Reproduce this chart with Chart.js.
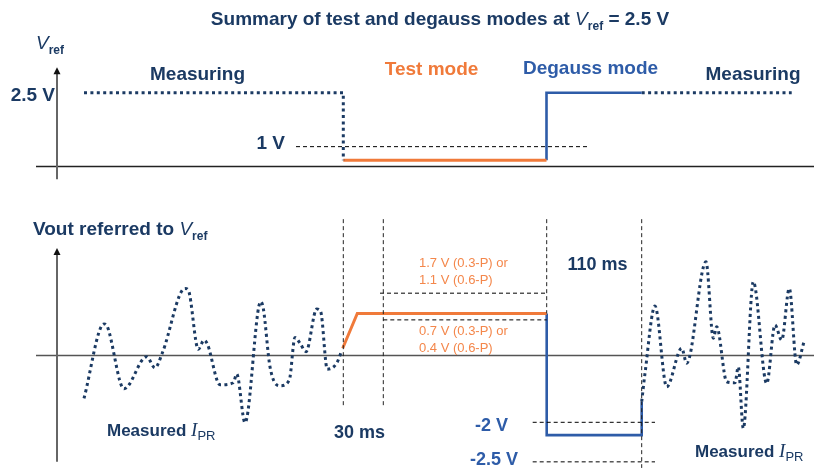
<!DOCTYPE html>
<html>
<head>
<meta charset="utf-8">
<script src="https://cdn.jsdelivr.net/npm/chart.js@4"></script>
<style>
html,body{margin:0;padding:0;background:#fff;}
#wrap{position:relative;width:814px;height:468px;}
canvas{display:block;}
</style>
</head>
<body>
<div id="wrap"><canvas id="c" width="814" height="468"></canvas></div>
<script>
// ---------- DATA (schematic time units, volts as drawn) ----------
// Top panel: V_ref versus time
const vrefMeasLeft   = [[27, 2.5], [286.3, 2.5], [286.3, 0.2]];
const vrefTest       = [[286.3, 0.2], [489.5, 0.2]];
const vrefDegauss    = [[489.5, 0.2], [489.5, 2.5], [584.7, 2.5]];
const vrefMeasRight  = [[584.7, 2.5], [734.7, 2.5]];
const vref1VMarker   = [[239, 0.66], [533, 0.66]];

// Bottom panel: Vout referred to V_ref
const noiseLeftT  = [27, 47, 50, 67, 89.7, 98, 105.3, 128, 131.3, 141.3, 147, 150.3, 163, 176.3, 179.7, 188, 203.7, 206.3, 213, 223, 232.3, 238, 243, 249, 259.7, 263.7, 270.3, 279.7, 284.7];
const noiseLeftV  = [-1.29, 0.91, 0.85, -1.01, -0.06, -0.39, 0.05, 1.96, 1.91, 0.16, 0.43, 0.32, -0.89, -0.83, -0.57, -2.01, 1.57, 1.37, -0.36, -0.92, -0.75, 0.51, 0.34, 0.09, 1.35, 1.27, -0.43, -0.25, 0.12];
const noiseRightT = [584.7, 588, 598, 609.7, 624.7, 629.7, 649, 656.3, 659.7, 669.7, 678, 681.3, 686.3, 696.3, 709.7, 718, 724.7, 732.3, 739.7, 747];
const noiseRightV = [-1.39, -0.55, 1.44, -0.95, 0.19, -0.25, 2.75, 0.49, 0.83, -0.80, -0.83, -0.36, -2.18, 2.16, -0.85, 0.88, 0.43, 1.96, -0.30, 0.38];
const voutTest    = [[285.7, 0.19], [300.3, 1.22], [489.7, 1.22]];
const voutDegauss = [[489.7, 1.22], [489.7, -2.38], [584.7, -2.38], [584.7, -1.39]];
const markUpper   = [[323, 1.82], [489.7, 1.82]];
const markLower   = [[326.3, 1.03], [489.7, 1.03]];
const markNeg2    = [[475.7, -2.0], [598, -2.0]];
const markNeg25   = [[475.7, -3.17], [598, -3.17]];
const vMarkT      = [286.3, 326.3, 489.7, 584.7];
const vMarkTop    = [4.01, 4.01, 4.01, 4.01];
const vMarkBottom = [-1.58, -1.58, 1.22, -3.35];

// ---------- STYLE ----------
const NAVY = '#1b3a63', ORANGE = '#f07a3a', ORANGE_T = '#f4874b', BLUE = '#2e5ca8';
const SANS = '"Liberation Sans", Arial, sans-serif';
const SERIF = '"Liberation Serif", "Times New Roman", serif';

const pts = a => a.map(p => ({x: p[0], y: p[1]}));
const zip = (t, v) => t.map((x, i) => ({x, y: v[i]}));

function ds(data, axis, color, opts) {
  return Object.assign({data: data, yAxisID: axis, borderColor: color, borderWidth: 3,
    pointRadius: 0, fill: false, tension: 0, showLine: true, borderCapStyle: 'butt'}, opts || {});
}
const DOT = {borderDash: [3, 3.4]};
const DASH = {borderWidth: 1, borderDash: [4, 3]};

const datasets = [
  ds(pts(vrefMeasLeft), 'yTop', NAVY, DOT),
  ds(pts(vrefTest), 'yTop', ORANGE),
  ds(pts(vrefDegauss), 'yTop', BLUE, {borderWidth: 2.6}),
  ds(pts(vrefMeasRight), 'yTop', NAVY, DOT),
  ds(pts(vref1VMarker), 'yTop', '#000', DASH),
  ds(zip(noiseLeftT, noiseLeftV), 'yBot', NAVY, Object.assign({cubicInterpolationMode: 'monotone'}, DOT)),
  ds(zip(noiseRightT, noiseRightV), 'yBot', NAVY, Object.assign({cubicInterpolationMode: 'monotone'}, DOT)),
  ds(pts(markUpper), 'yBot', '#000', DASH),
  ds(pts(markLower), 'yBot', '#000', DASH),
  ds(pts(markNeg2), 'yBot', '#000', DASH),
  ds(pts(markNeg25), 'yBot', '#000', DASH),
];
vMarkT.forEach((t, i) => datasets.push(ds([{x: t, y: vMarkTop[i]}, {x: t, y: vMarkBottom[i]}], 'yBot', '#222', DASH)));
datasets.push(ds(pts(voutTest), 'yBot', ORANGE));
datasets.push(ds(pts(voutDegauss), 'yBot', BLUE, {borderWidth: 2.6}));

// ---------- TEXT ----------
const B = s => 'bold ' + s + 'px ' + SANS;
const topLabels = [
  {x: 140.5, y: 2.93, align: 'center', segs: [{t: 'Measuring', f: B(19), c: NAVY}]},
  {x: -2, y: 2.22, align: 'right', segs: [{t: '2.5 V', f: B(19), c: NAVY}]},
  {x: 228, y: 0.58, align: 'right', segs: [{t: '1 V', f: B(19), c: NAVY}]},
  {x: 374.5, y: 3.1, align: 'center', segs: [{t: 'Test mode', f: B(19), c: ORANGE}]},
  {x: 533.5, y: 3.14, align: 'center', segs: [{t: 'Degauss mode', f: B(19), c: BLUE}]},
  {x: 696, y: 2.93, align: 'center', segs: [{t: 'Measuring', f: B(19), c: NAVY}]},
  {x: -21, y: 3.98, align: 'left', segs: [{t: 'V', f: 'italic 19px ' + SANS, c: NAVY}, {t: 'ref', f: B(12), c: NAVY, dy: 5}]},
];
const botLabels = [
  {x: -24, y: 3.54, align: 'left', segs: [{t: 'Vout referred to ', f: B(19), c: NAVY}, {t: 'V', f: 'italic 19px ' + SANS, c: NAVY}, {t: 'ref', f: B(12), c: NAVY, dy: 5}]},
  {x: 50, y: -2.41, align: 'left', segs: [{t: 'Measured ', f: B(17), c: NAVY}, {t: 'I', f: 'italic 19px ' + SERIF, c: NAVY}, {t: 'PR', f: '13px ' + SANS, c: NAVY, dy: 4}]},
  {x: 638, y: -3.03, align: 'left', segs: [{t: 'Measured ', f: B(17), c: NAVY}, {t: 'I', f: 'italic 19px ' + SERIF, c: NAVY}, {t: 'PR', f: '13px ' + SANS, c: NAVY, dy: 4}]},
  {x: 302.5, y: -2.46, align: 'center', segs: [{t: '30 ms', f: B(18), c: NAVY}]},
  {x: 540.5, y: 2.51, align: 'center', segs: [{t: '110 ms', f: B(18), c: NAVY}]},
  {x: 362, y: 2.59, align: 'left', segs: [{t: '1.7 V (0.3-P) or', f: '13px ' + SANS, c: ORANGE_T}]},
  {x: 362, y: 2.09, align: 'left', segs: [{t: '1.1 V (0.6-P)', f: '13px ' + SANS, c: ORANGE_T}]},
  {x: 362, y: 0.58, align: 'left', segs: [{t: '0.7 V (0.3-P) or', f: '13px ' + SANS, c: ORANGE_T}]},
  {x: 362, y: 0.08, align: 'left', segs: [{t: '0.4 V (0.6-P)', f: '13px ' + SANS, c: ORANGE_T}]},
  {x: 451, y: -2.26, align: 'right', segs: [{t: '-2 V', f: B(18), c: BLUE}]},
  {x: 461, y: -3.26, align: 'right', segs: [{t: '-2.5 V', f: B(18), c: BLUE}]},
];
const titleSegs = [
  {t: 'Summary of test and degauss modes at ', f: B(19), c: NAVY},
  {t: 'V', f: 'italic 19px ' + SANS, c: NAVY},
  {t: 'ref', f: B(12), c: NAVY, dy: 5},
  {t: ' = 2.5 V', f: B(19), c: NAVY},
];

function drawRich(ctx, x, y, segs, align) {
  let w = 0;
  segs.forEach(s => { ctx.font = s.f; w += ctx.measureText(s.t).width; });
  let cx = align === 'center' ? x - w / 2 : align === 'right' ? x - w : x;
  ctx.textAlign = 'left'; ctx.textBaseline = 'alphabetic';
  segs.forEach(s => {
    ctx.font = s.f; ctx.fillStyle = s.c;
    ctx.fillText(s.t, cx, y + (s.dy || 0));
    cx += ctx.measureText(s.t).width;
  });
}

function arrow(ctx, x, yTip, yEnd) {
  ctx.strokeStyle = '#666'; ctx.lineWidth = 2; ctx.setLineDash([]);
  ctx.beginPath(); ctx.moveTo(x, yEnd); ctx.lineTo(x, yTip + 5); ctx.stroke();
  ctx.fillStyle = '#111';
  ctx.beginPath(); ctx.moveTo(x, yTip); ctx.lineTo(x - 3.5, yTip + 7); ctx.lineTo(x + 3.5, yTip + 7); ctx.closePath(); ctx.fill();
}

const decor = {
  id: 'decor',
  beforeDatasetsDraw(chart) {
    const ctx = chart.ctx, sx = chart.scales.x, yt = chart.scales.yTop, yb = chart.scales.yBot;
    ctx.save();
    ctx.lineWidth = 1.5; ctx.setLineDash([]);
    ctx.strokeStyle = '#222';
    let y0 = Math.round(yt.getPixelForValue(0)) + 0.5;
    ctx.beginPath(); ctx.moveTo(sx.getPixelForValue(-21), y0); ctx.lineTo(chart.width, y0); ctx.stroke();
    ctx.strokeStyle = '#555';
    let y1 = Math.round(yb.getPixelForValue(0)) + 0.5;
    ctx.beginPath(); ctx.moveTo(sx.getPixelForValue(-21), y1); ctx.lineTo(chart.width, y1); ctx.stroke();
    const ax = sx.getPixelForValue(0);
    arrow(ctx, ax, yt.getPixelForValue(3.366), yt.getPixelForValue(-0.454));
    arrow(ctx, ax, yb.getPixelForValue(3.157), yb.getPixelForValue(-3.17));
    ctx.restore();
  },
  afterDatasetsDraw(chart) {
    const ctx = chart.ctx, sx = chart.scales.x, yt = chart.scales.yTop, yb = chart.scales.yBot;
    ctx.save();
    drawRich(ctx, 440, 25, titleSegs, 'center');
    topLabels.forEach(l => drawRich(ctx, sx.getPixelForValue(l.x), yt.getPixelForValue(l.y), l.segs, l.align));
    botLabels.forEach(l => drawRich(ctx, sx.getPixelForValue(l.x), yb.getPixelForValue(l.y), l.segs, l.align));
    ctx.restore();
  }
};

new Chart(document.getElementById('c'), {
  type: 'line',
  data: {datasets},
  options: {
    responsive: false, animation: false, devicePixelRatio: 1,
    layout: {padding: 0},
    plugins: {legend: {display: false}, tooltip: {enabled: false}, title: {display: false}},
    scales: {
      x: {type: 'linear', min: -57, max: 757, display: false},
      yTop: {type: 'linear', position: 'left', min: -10.3001, max: 5.6617, display: false},
      yBot: {type: 'linear', position: 'left', min: -3.352, max: 10.494, display: false}
    }
  },
  plugins: [decor]
});
</script>
</body>
</html>
